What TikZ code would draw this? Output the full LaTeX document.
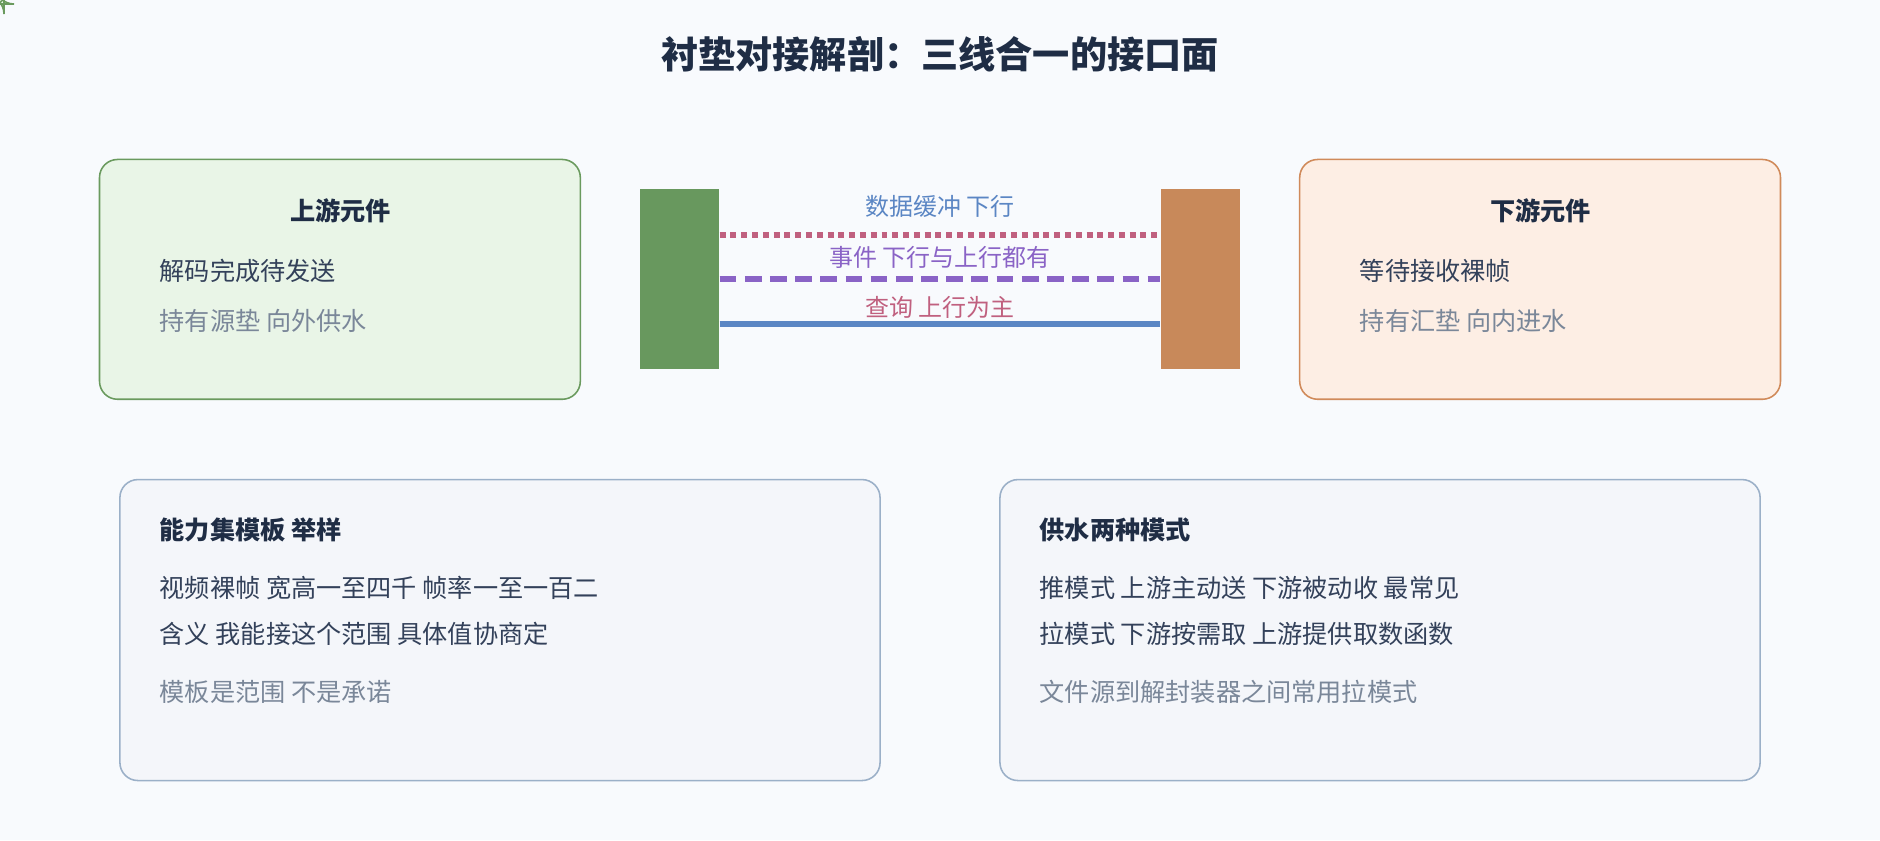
\documentclass[tikz,border=0pt]{standalone}
\usepackage{fontspec}
\setmainfont{Noto Sans CJK SC}
\newfontfamily\cjkb{Noto Sans CJK SC Bold}
\definecolor{bg}{HTML}{F8FAFD}
\definecolor{ink}{HTML}{1F2D45}
\definecolor{txt}{HTML}{33415A}
\definecolor{mute}{HTML}{7A8799}
\definecolor{gfill}{HTML}{E9F5E7}
\definecolor{gline}{HTML}{6A9A5E}
\definecolor{gpad}{HTML}{68985E}
\definecolor{ofill}{HTML}{FDEEE4}
\definecolor{oline}{HTML}{D08A5A}
\definecolor{opad}{HTML}{C8895A}
\definecolor{cfill}{HTML}{F4F6FA}
\definecolor{cline}{HTML}{9BB0C8}
\definecolor{lblue}{HTML}{5B86C4}
\definecolor{lpurp}{HTML}{8A63C6}
\definecolor{lpink}{HTML}{C0607F}
\begin{document}
\begin{tikzpicture}[x=1pt,y=-1pt,
  box/.style={draw,line width=1.3pt,rounded corners=15pt},
  t/.style={anchor=west,inner sep=0,font=\fontsize{21}{24}\selectfont,text=txt},
  tm/.style={t,text=mute},
  tb/.style={t,text=ink,font=\fontsize{21}{24}\selectfont\bfseries},
  lbl/.style={inner sep=0,font=\fontsize{20}{24}\selectfont}]
\fill[bg] (0,0) rectangle (1568,701);
\useasboundingbox (0,0) rectangle (1568,701);
\node[text=ink,font=\fontsize{31}{36}\selectfont\bfseries] (title) at (784,45) {衬垫对接解剖：三线合一的接口面};
% upstream
\node[box,fill=gfill,draw=gline] (up) at (0,0) [minimum width=0pt] {};
\path[box,fill=gfill,draw=gline] (83,133) rectangle (484,333);
\node[tb,anchor=center] (upt) at (284,176) {上游元件};
\node[t] (up1) at (133,226) {解码完成待发送};
\node[tm] (up2) at (133,268) {持有源垫 向外供水};
% downstream
\path[box,fill=ofill,draw=oline] (1084,133) rectangle (1485,333);
\node[tb,anchor=center] (dnt) at (1285,176) {下游元件};
\node[t] (dn1) at (1134,226) {等待接收裸帧};
\node[tm] (dn2) at (1134,268) {持有汇垫 向内进水};
% pads
\node[fill=gpad,minimum width=66pt,minimum height=150pt,inner sep=0] (gp) at (567,233) {};
\node[fill=opad,minimum width=66pt,minimum height=150pt,inner sep=0] (op) at (1001,233) {};
\draw[lblue,line width=5pt] ([yshift=-37pt]gp.east) -- ([yshift=-37pt]op.west);
\draw[lpurp,line width=5pt,dash pattern=on 14pt off 7pt] (gp.east) -- (op.west);
\draw[lpink,line width=5pt,dash pattern=on 5pt off 4pt] ([yshift=37pt]gp.east) -- ([yshift=37pt]op.west);
\node[lbl,text=lblue] (l1) at (784,172) {数据缓冲 下行};
\node[lbl,text=lpurp] (l2) at (784,215) {事件 下行与上行都有};
\node[lbl,text=lpink] (l3) at (784,256) {查询 上行为主};
% bottom cards
\path[box,fill=cfill,draw=cline] (100,400) rectangle (734,651);
\node[tb] (c1t) at (133,442) {能力集模板 举样};
\node[t] (c11) at (133,490) {视频裸帧 宽高一至四千 帧率一至一百二};
\node[t] (c12) at (133,529) {含义 我能接这个范围 具体值协商定};
\node[tm] (c13) at (133,577) {模板是范围 不是承诺};
\path[box,fill=cfill,draw=cline] (834,400) rectangle (1468,651);
\node[tb] (c2t) at (867,442) {供水两种模式};
\node[t] (c21) at (867,490) {推模式 上游主动送 下游被动收 最常见};
\node[t] (c22) at (867,529) {拉模式 下游按需取 上游提供取数函数};
\node[tm] (c23) at (867,577) {文件源到解封装器之间常用拉模式};
\end{tikzpicture}
\end{document}
